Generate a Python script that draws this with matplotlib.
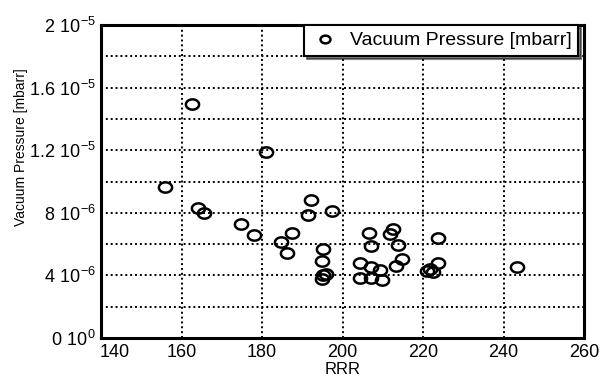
import numpy as np
import matplotlib
matplotlib.use("Agg")
import matplotlib.pyplot as plt
import matplotlib.transforms as mtransforms
from matplotlib.path import Path
from matplotlib.ticker import MultipleLocator, FixedLocator, FixedFormatter

# RRR vs vacuum pressure
rrr = [155.9, 162.5, 164.0, 165.7, 174.7, 178.0, 181.0, 184.6, 186.3, 187.5,
       191.4, 192.1, 195.2, 195.0, 195.2, 195.0, 196.0, 197.5, 204.3, 204.3,
       206.7, 207.0, 207.2, 207.0, 209.3, 209.7, 211.8, 212.6, 213.9, 213.3,
       214.7, 221.1, 222.4, 221.8, 223.8, 223.8, 243.3]
pressure_e6 = [9.63, 14.95, 8.29, 7.97, 7.28, 6.58, 11.9, 6.11, 5.45, 6.73,
               7.86, 8.82, 5.69, 4.92, 4.03, 3.77, 4.1, 8.12, 4.81, 3.81,
               6.73, 5.88, 4.52, 3.85, 4.35, 3.71, 6.62, 6.96, 5.94, 4.62,
               5.03, 4.28, 4.20, 4.4, 6.37, 4.77, 4.55]
pressure = [p * 1e-6 for p in pressure_e6]

xticks = [140, 160, 180, 200, 220, 240, 260]
ytick_vals = [0, 4e-6, 8e-6, 1.2e-5, 1.6e-5, 2e-5]
ytick_labels = [r"$\mathregular{0\ 10^{0}}$", r"$\mathregular{4\ 10^{-6}}$",
                r"$\mathregular{8\ 10^{-6}}$", r"$\mathregular{1.2\ 10^{-5}}$",
                r"$\mathregular{1.6\ 10^{-5}}$", r"$\mathregular{2\ 10^{-5}}$"]

plt.rcParams["font.family"] = "Liberation Sans"
plt.rcParams["mathtext.fontset"] = "custom"
plt.rcParams["mathtext.rm"] = "Liberation Sans"

# slightly flattened open circle, like the original markers
t = np.linspace(0, 2 * np.pi, 40)
ellipse = Path(np.column_stack([np.cos(t), 0.78 * np.sin(t)]), closed=True)

fig = plt.figure(figsize=(6.03, 3.77), dpi=100)
ax = fig.add_axes([0.1675, 0.1034, 0.801, 0.8303])

ax.plot(rrr, pressure, linestyle="none", marker=ellipse, markersize=9.5,
        markerfacecolor="none", markeredgecolor="black", markeredgewidth=1.8,
        label="Vacuum Pressure [mbarr]")

ax.set_xlim(xticks[0], xticks[-1])
ax.set_ylim(0, 2e-5)
ax.set_xticks(xticks)
ax.yaxis.set_major_locator(FixedLocator(ytick_vals))
ax.yaxis.set_major_formatter(FixedFormatter(ytick_labels))
ax.yaxis.set_minor_locator(MultipleLocator(2e-6))

ax.grid(True, which="both", color="black", linestyle=(0, (1, 1.5)), linewidth=1.4)
ax.set_axisbelow(True)
ax.tick_params(which="both", length=0, labelsize=13)
ax.tick_params(axis="y", pad=4)
ax.tick_params(axis="x", pad=4)
for s in ax.spines.values():
    s.set_linewidth(2.2)

ax.set_xlabel("RRR", fontsize=12, labelpad=1)
ax.set_ylabel("Vacuum Pressure [mbarr]", fontsize=10, labelpad=4)
ax.yaxis.set_label_coords(-0.152, 0.61)

leg = ax.legend(loc="upper right", bbox_to_anchor=(0.988, 1.0), borderaxespad=0,
                fancybox=False, shadow={"color": "black"}, fontsize=14,
                markerscale=0.75, handlelength=1.5, handletextpad=0.5,
                borderpad=0.35)
leg.get_frame().set_edgecolor("black")
leg.get_frame().set_linewidth(1.5)
leg.get_frame().set_alpha(1)

# the first x label sits right of the axis corner, as in the original
fig.canvas.draw()
for tick in ax.xaxis.get_major_ticks():
    if tick.get_loc() == xticks[0]:
        lbl = tick.label1
        lbl.set_transform(lbl.get_transform()
                          + mtransforms.ScaledTranslation(10 / 72, 0, fig.dpi_scale_trans))

fig.savefig("out.png", dpi=100)
